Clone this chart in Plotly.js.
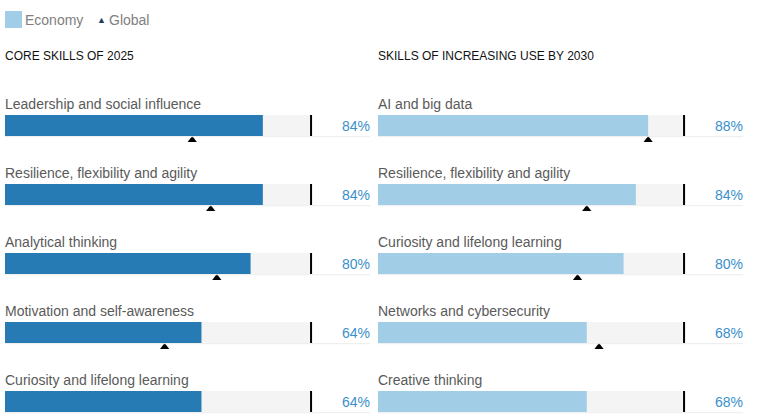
<!DOCTYPE html>
<html>
<head>
<meta charset="utf-8">
<script src="https://cdn.plot.ly/plotly-3.0.1.min.js"></script>
<style>html,body{margin:0;padding:0;background:#fff;}#chart{width:758px;height:414px;}</style>
</head>
<body>
<div id="chart"></div>
<script>
// ---- data ----
const leftTitle = "CORE SKILLS OF 2025";
const rightTitle = "SKILLS OF INCREASING USE BY 2030";
const leftSkills = ["Leadership and social influence", "Resilience, flexibility and agility", "Analytical thinking", "Motivation and self-awareness", "Curiosity and lifelong learning"];
const leftEconomy = [84, 84, 80, 64, 64];
const leftGlobal = [61, 67, 69, 52, 50];
const rightSkills = ["AI and big data", "Resilience, flexibility and agility", "Curiosity and lifelong learning", "Networks and cybersecurity", "Creative thinking"];
const rightEconomy = [88, 84, 80, 68, 68];
const rightGlobal = [88, 68, 65, 72, 68];
const maxValue = 100;

// ---- layout constants ----
const W = 758, H = 414;
const rowPx = 69;           // pixels per row
const row0Center = 125.5;   // px of first bar center
const barPx = 21;
const XMAX = 118.9;
const yTop = -row0Center / rowPx;
const yRange = [yTop + H / rowPx, yTop];
const barW = barPx / rowPx;
const labelOff = -(row0Center - 104) / rowPx;
const triOff = (140 - row0Center) / rowPx;
const FONT = "Liberation Sans, Arial, Helvetica, sans-serif";

const idx = leftSkills.map((_, i) => i);

function panel(xa, ya, skills, econ, glob, color) {
  const traces = [];
  traces.push({type: 'bar', orientation: 'h', x: skills.map(() => maxValue), y: idx, width: barW,
    marker: {color: '#f4f4f4'}, xaxis: xa, yaxis: ya, hoverinfo: 'skip'});
  traces.push({type: 'bar', orientation: 'h', x: econ, y: idx, width: barW,
    marker: {color: color}, xaxis: xa, yaxis: ya, hoverinfo: 'skip'});
  traces.push({type: 'scatter', mode: 'markers', x: glob, y: idx.map(i => i + triOff),
    marker: {symbol: 'triangle-up', size: 8, color: '#000'}, xaxis: xa, yaxis: ya, hoverinfo: 'skip', cliponaxis: false});
  return traces;
}

const data = [
  ...panel('x', 'y', leftSkills, leftEconomy, leftGlobal, '#277bb4'),
  ...panel('x2', 'y2', rightSkills, rightEconomy, rightGlobal, '#a1cde6')
];

const annotations = [];
const shapes = [];
function decorate(xr, yr, skills, econ) {
  skills.forEach((s, i) => {
    annotations.push({xref: xr, yref: yr, x: 0, y: i + labelOff, text: s, showarrow: false,
      xanchor: 'left', yanchor: 'middle', xshift: -2, font: {family: FONT, size: 14, color: '#5a5a5a'}});
    annotations.push({xref: xr, yref: yr, x: XMAX, y: i, text: econ[i] + '%', showarrow: false,
      xanchor: 'right', yanchor: 'middle', xshift: 2, font: {family: FONT, size: 14, color: '#3a8fcb'}});
    shapes.push({type: 'line', xref: xr, yref: yr, x0: 0, x1: XMAX, y0: i + barW / 2 + 0.01, y1: i + barW / 2 + 0.01,
      line: {color: '#ececec', width: 1}});
    shapes.push({type: 'line', xref: xr, yref: yr, x0: maxValue - 0.3, x1: maxValue - 0.3, y0: i - barW / 2, y1: i + barW / 2,
      line: {color: '#000', width: 2}});
  });
}
decorate('x', 'y', leftSkills, leftEconomy);
decorate('x2', 'y2', rightSkills, rightEconomy);

// titles
annotations.push({xref: 'paper', yref: 'paper', x: 5 / W, y: 1 - 56 / H, text: leftTitle, showarrow: false,
  xanchor: 'left', yanchor: 'middle', xshift: -2, font: {family: FONT, size: 12, color: '#111'}});
annotations.push({xref: 'paper', yref: 'paper', x: 378 / W, y: 1 - 56 / H, text: rightTitle, showarrow: false,
  xanchor: 'left', yanchor: 'middle', xshift: -2, font: {family: FONT, size: 12, color: '#111'}});
// legend
shapes.push({type: 'rect', xref: 'paper', yref: 'paper', x0: 5 / W, x1: 22 / W, y0: 1 - 28 / H, y1: 1 - 11 / H,
  fillcolor: '#a1cde6', line: {width: 0}});
annotations.push({xref: 'paper', yref: 'paper', x: 25 / W, y: 1 - 20 / H, text: 'Economy', showarrow: false,
  xanchor: 'left', yanchor: 'middle', xshift: -2, font: {family: FONT, size: 14, color: '#808080'}});
annotations.push({xref: 'paper', yref: 'paper', x: 97 / W, y: 1 - 20 / H, text: '▲', showarrow: false,
  xanchor: 'left', yanchor: 'middle', xshift: -2, font: {family: FONT, size: 9, color: '#1d3a66'}});
annotations.push({xref: 'paper', yref: 'paper', x: 109 / W, y: 1 - 20 / H, text: 'Global', showarrow: false,
  xanchor: 'left', yanchor: 'middle', xshift: -2, font: {family: FONT, size: 14, color: '#808080'}});

const axX = (d) => ({domain: d, range: [0, XMAX], visible: false, fixedrange: true});
const axY = (anchor) => ({domain: [0, 1], range: yRange, visible: false, fixedrange: true, anchor: anchor});

const layout = {
  width: W, height: H, autosize: false,
  margin: {l: 0, r: 0, t: 0, b: 0, pad: 0},
  paper_bgcolor: '#fff', plot_bgcolor: 'rgba(0,0,0,0)',
  showlegend: false, barmode: 'overlay', hovermode: false,
  xaxis: Object.assign(axX([5 / W, 370 / W]), {anchor: 'y'}),
  yaxis: axY('x'),
  xaxis2: Object.assign(axX([378 / W, 743 / W]), {anchor: 'y2'}),
  yaxis2: axY('x2'),
  annotations: annotations, shapes: shapes,
  font: {family: FONT}
};

Plotly.newPlot('chart', data, layout, {displayModeBar: false, staticPlot: true});
</script>
</body>
</html>
